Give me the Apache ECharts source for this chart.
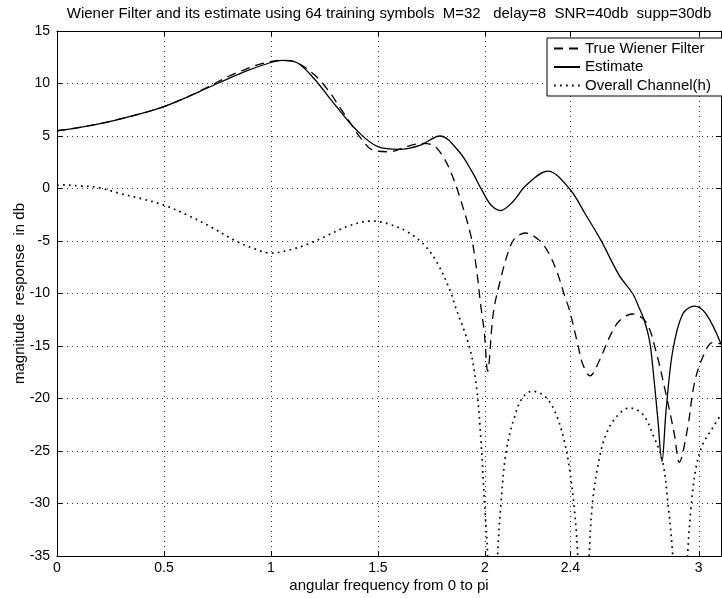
<!DOCTYPE html>
<html>
<head>
<meta charset="utf-8">
<script src="https://cdn.jsdelivr.net/npm/echarts@6/dist/echarts.min.js"></script>
<style>
html,body{margin:0;padding:0;background:#fff;}
#chart{width:722px;height:598px;}
</style>
</head>
<body>
<div id="chart"></div>
<script>
var titleText = 'Wiener Filter and its estimate using 64 training symbols  M=32   delay=8  SNR=40db  supp=30db';
var xAxisName = 'angular frequency from 0 to pi';
var yAxisName = 'magnitude  response  in db';
var seriesNames = ['True Wiener Filter', 'Estimate', 'Overall Channel(h)'];
var xTicks = [0, 0.5, 1, 1.5, 2, 2.4, 3];
var yTicks = [-35, -30, -25, -20, -15, -10, -5, 0, 5, 10, 15];

var wienerX = [0, 0.1, 0.25, 0.5, 0.7, 0.8, 0.884, 0.954, 1.05, 1.12, 1.203, 1.266, 1.32, 1.367, 1.42, 1.476, 1.554, 1.632, 1.71, 1.76, 1.795, 1.834, 1.88, 1.936, 1.96, 1.98, 1.998, 2.013, 2.04, 2.076, 2.107, 2.138, 2.19, 2.255, 2.30, 2.34, 2.376, 2.396, 2.434, 2.457, 2.492, 2.535, 2.582, 2.629, 2.691, 2.754, 2.8, 2.847, 2.886, 2.909, 2.948, 2.979, 3.018, 3.065, 3.104];
var wienerY = [5.5, 5.8, 6.4, 7.8, 9.6, 10.67, 11.37, 11.88, 12.2, 12.0, 10.83, 9.4, 7.8, 6.37, 4.8, 3.66, 3.5, 3.98, 4.3, 4.1, 3.35, 1.9, -0.64, -4.6, -7.5, -11, -13.8, -17.4, -11.8, -8.45, -6.2, -4.8, -4.24, -4.94, -6.2, -8.1, -10.4, -11.6, -14.8, -16.7, -17.85, -16.4, -14.2, -12.6, -11.95, -12.75, -15.5, -19.6, -23.4, -26.07, -22.8, -18.6, -16.1, -14.67, -14.8];

var estX = [0, 0.1, 0.25, 0.5, 0.75, 0.88, 1.0, 1.05, 1.12, 1.2, 1.3, 1.4, 1.5, 1.6, 1.7, 1.79, 1.88, 1.94, 1.99, 2.03, 2.073, 2.13, 2.193, 2.294, 2.395, 2.473, 2.543, 2.629, 2.691, 2.72, 2.746, 2.77, 2.785, 2.808, 2.828, 2.847, 2.878, 2.925, 2.98, 3.034, 3.104];
var estY = [5.5, 5.8, 6.4, 7.8, 10.0, 11.15, 12.0, 12.2, 12.0, 10.5, 7.96, 5.57, 3.98, 3.73, 4.14, 5.0, 3.5, 1.6, -0.3, -1.6, -2.1, -1.28, 0.3, 1.65, 0.0, -2.55, -4.94, -8.3, -10.0, -11.3, -12.6, -14.5, -17.0, -21.8, -26.0, -21.2, -15.5, -11.95, -11.2, -11.95, -14.8];

var chanX = [0, 0.02, 0.1, 0.19, 0.3, 0.393, 0.502, 0.611, 0.72, 0.83, 0.923, 1.0, 1.078, 1.172, 1.265, 1.359, 1.468, 1.546, 1.64, 1.718, 1.78, 1.843, 1.858, 1.928, 1.959, 1.98, 1.998, 2.013, 2.037, 2.06, 2.076, 2.1, 2.138, 2.177, 2.224, 2.286, 2.333, 2.372, 2.395, 2.418, 2.434, 2.46, 2.488, 2.504, 2.535, 2.567, 2.613, 2.676, 2.738, 2.785, 2.831, 2.855, 2.878, 2.913, 2.948, 2.964, 2.987, 3.018, 3.065, 3.104];
var chanY = [0.3, 0.35, 0.25, 0.1, -0.5, -0.96, -1.6, -2.55, -3.67, -4.94, -5.74, -6.15, -5.9, -5.3, -4.46, -3.6, -3.1, -3.35, -4.15, -5.4, -7.17, -10.0, -11, -15.1, -18.6, -23.4, -29.8, -34.9, -50, -34.9, -29.8, -25, -21.8, -19.9, -19.3, -19.9, -21.5, -24.1, -26.6, -30.4, -34.9, -50, -34.9, -29.8, -25.7, -23.4, -21.8, -20.9, -21.5, -23.4, -26, -29.8, -34.9, -50, -34.9, -30.4, -26.6, -24.4, -22.8, -21.5];

function zip(xs, ys) { return xs.map(function (x, i) { return [x, ys[i]]; }); }

var FONT = 'Liberation Sans, Arial, Helvetica, sans-serif';
var chart = echarts.init(document.getElementById('chart'), null, {renderer: 'canvas'});
var gridLine = {show: true, lineStyle: {color: '#333', width: 1, type: [1, 4]}};
var xMin = 0, xMax = 3.104;
chart.setOption({
  animation: false,
  backgroundColor: '#fff',
  graphic: [{
    type: 'text', x: 389, y: 14,
    style: {text: titleText, textAlign: 'center', textVerticalAlign: 'middle', font: '15px ' + FONT, fill: '#000'}
  }],
  legend: {
    orient: 'vertical', left: 547, top: 38,
    padding: [3, 14, 3, 6], itemGap: 3.5, itemWidth: 26, itemHeight: 15,
    backgroundColor: '#fff', borderColor: '#000', borderWidth: 1, borderRadius: 0,
    itemStyle: {opacity: 0},
    textStyle: {fontSize: 15, fontFamily: FONT, color: '#000'},
    data: seriesNames
  },
  grid: {left: 57, right: 1, top: 31, bottom: 42, show: false, containLabel: false, outerBoundsMode: 'none'},
  xAxis: [{
    type: 'value', min: xMin, max: xMax, position: 'bottom',
    name: xAxisName, nameLocation: 'middle', nameGap: 22, nameMoveOverlap: false,
    nameTextStyle: {fontSize: 15, fontFamily: FONT, color: '#000'},
    axisLine: {show: true, onZero: false, lineStyle: {color: '#000', width: 1}},
    axisTick: {show: true, inside: true, length: 5, customValues: xTicks, lineStyle: {color: '#000'}},
    axisLabel: {show: true, customValues: xTicks, margin: 5, fontSize: 14, fontFamily: FONT, color: '#000', showMinLabel: true, showMaxLabel: true},
    splitLine: gridLine
  }, {
    type: 'value', min: xMin, max: xMax, position: 'top',
    axisLine: {show: true, onZero: false, lineStyle: {color: '#000', width: 1}},
    axisTick: {show: true, inside: true, length: 5, customValues: xTicks, lineStyle: {color: '#000'}},
    axisLabel: {show: false},
    splitLine: {show: false}
  }],
  yAxis: [{
    type: 'value', min: -35, max: 15, interval: 5, position: 'left',
    name: yAxisName, nameLocation: 'middle', nameGap: 30, nameMoveOverlap: false,
    nameTextStyle: {fontSize: 15, fontFamily: FONT, color: '#000'},
    axisLine: {show: true, onZero: false, lineStyle: {color: '#000', width: 1}},
    axisTick: {show: true, inside: true, length: 5, lineStyle: {color: '#000'}},
    axisLabel: {show: true, margin: 7, fontSize: 14, fontFamily: FONT, color: '#000'},
    splitLine: gridLine
  }, {
    type: 'value', min: -35, max: 15, interval: 5, position: 'right',
    axisLine: {show: true, onZero: false, lineStyle: {color: '#000', width: 1}},
    axisTick: {show: true, inside: true, length: 5, lineStyle: {color: '#000'}},
    axisLabel: {show: false},
    splitLine: {show: false}
  }],
  series: [{
    name: seriesNames[0], type: 'line', data: zip(wienerX, wienerY),
    symbol: 'none', smooth: 0.35, clip: true,
    lineStyle: {color: '#000', width: 1.3, type: [9, 6]}, itemStyle: {color: '#000'}
  }, {
    name: seriesNames[1], type: 'line', data: zip(estX, estY),
    symbol: 'none', smooth: 0.35, clip: true,
    lineStyle: {color: '#000', width: 1.3, type: 'solid'}, itemStyle: {color: '#000'}
  }, {
    name: seriesNames[2], type: 'line', data: zip(chanX, chanY),
    symbol: 'none', smooth: 0.35, clip: true,
    lineStyle: {color: '#000', width: 1.7, type: [1.7, 4.3]}, itemStyle: {color: '#000'}
  }]
});
</script>
</body>
</html>
